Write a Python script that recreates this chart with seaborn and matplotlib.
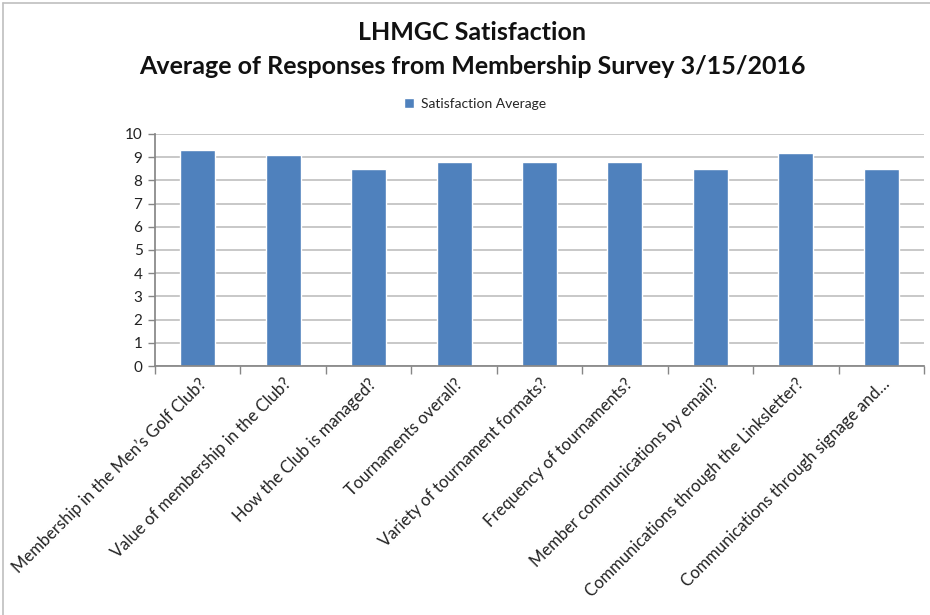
import matplotlib
matplotlib.use("Agg")
import matplotlib.pyplot as plt
from matplotlib.lines import Line2D
import seaborn as sns
import pandas as pd

categories = [
    "Membership in the Men\u2019s Golf Club?",
    "Value of membership in the Club?",
    "How the Club is managed?",
    "Tournaments overall?",
    "Variety of tournament formats?",
    "Frequency of tournaments?",
    "Member communications by email?",
    "Communications through the Linksletter?",
    "Communications through signage and\u2026",
]
values = [9.3, 9.1, 8.5, 8.8, 8.8, 8.8, 8.5, 9.2, 8.5]
series_name = "Satisfaction Average"
yticks = list(range(0, 11))

sns.set_theme(style="white")
plt.rcParams['font.family'] = ['Lato', 'DejaVu Sans']

df = pd.DataFrame({"Question": categories, "Value": values, "Series": series_name})

fig = plt.figure(figsize=(9.3, 6.15), dpi=100)
ax = fig.add_axes([155/930, 1 - 366/615, (924-155)/930, (366-134)/615])

sns.barplot(data=df, x="Question", y="Value", hue="Series", palette=["#4F81BD"],
            width=0.41, ax=ax, saturation=1, legend=True)

ax.set_ylim(0, 10)
ax.set_xlim(-0.5, len(categories) - 0.5)
ax.set_yticks(yticks)
ax.yaxis.grid(True, color="#BFBFBF", linewidth=1.2)
ax.set_axisbelow(True)
ax.set_xlabel("")
ax.set_ylabel("")

for s in ["top", "right"]:
    ax.spines[s].set_visible(False)
ax.spines["left"].set_color("#868686")
ax.spines["bottom"].set_color("#868686")

ax.set_xticks(range(len(categories)))
ax.set_xticklabels(categories, rotation=45, ha="right", rotation_mode="anchor",
                   fontsize=12, color="#222222")
ax.tick_params(axis="x", length=0, pad=7)
ax.tick_params(axis="y", labelsize=11, colors="#222222", length=5, width=1,
               color="#868686", left=True, pad=4)
ax.tick_params(axis="y", labelcolor="#222222")

# minor ticks at category boundaries
ax.set_xticks([i - 0.5 for i in range(len(categories) + 1)], minor=True)
ax.tick_params(axis="x", which="minor", length=6, width=1, color="#868686", bottom=True)

leg = ax.legend(loc="center", bbox_to_anchor=(475/930, 1 - 104/615),
                bbox_transform=fig.transFigure, frameon=False,
                fontsize=10, handlelength=0.7, handleheight=0.7, handletextpad=0.5)

fig.text(472/930, 1 - 33/615, "LHMGC Satisfaction", ha="center", va="center",
         fontsize=18, fontweight="bold", color="#111111")
fig.text(472/930, 1 - 66/615, "Average of Responses from Membership Survey 3/15/2016",
         ha="center", va="center", fontsize=18, fontweight="bold", color="#111111")

# chart frame
fig.add_artist(Line2D([3/930, 3/930], [0, 1 - 3/615], color="#BFBFBF", lw=1.2))
fig.add_artist(Line2D([3/930, 1], [1 - 3/615, 1 - 3/615], color="#BFBFBF", lw=1.2))

fig.savefig("out.png", dpi=100)
